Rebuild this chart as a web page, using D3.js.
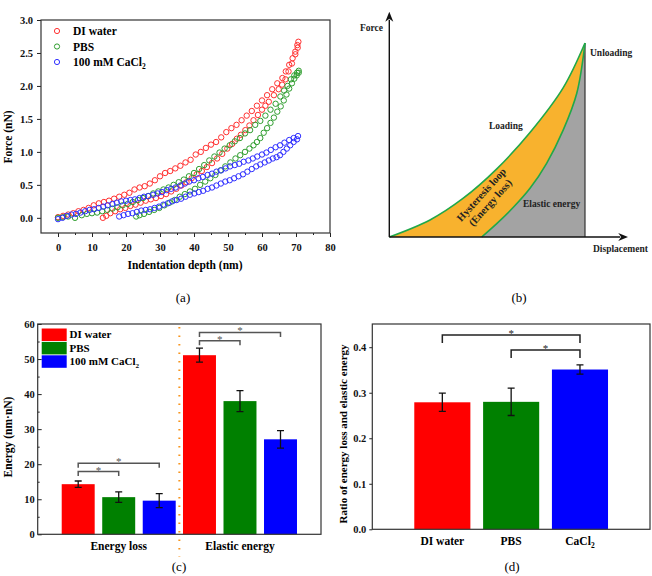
<!DOCTYPE html>
<html>
<head>
<meta charset="utf-8">
<script src="https://cdn.jsdelivr.net/npm/d3@7"></script>
<style>
  body { margin: 0; background: #fff; }
</style>
</head>
<body>
<div id="chart"></div>
<script>
// ---------------- data: panel (a) force vs indentation ----------------
const depthTicks = [0, 10, 20, 30, 40, 50, 60, 70, 80];
const depthMinor = [5, 15, 25, 35, 45, 55, 65, 75];
const forceTicks = [0, 0.5, 1.0, 1.5, 2.0, 2.5, 3.0];
const curveNames = ['DI water', 'PBS', '100 mM CaCl2'];

// [depth nm, force nN]
const diLoad = [[0,0.01],[1.5,0.03],[3,0.05],[4.5,0.07],[6,0.1],[7.5,0.12],[9,0.15],[10.5,0.19],[12,0.22],[13.5,0.24],
  [15,0.26],[16.5,0.29],[18,0.32],[19.5,0.35],[21,0.38],[22.5,0.43],[24,0.46],[25.5,0.48],[27,0.52],[28.5,0.57],
  [30,0.63],[31.5,0.68],[33,0.71],[34.5,0.75],[36,0.79],[37.5,0.84],[39,0.88],[40.5,0.96],[42,1.0],[43.5,1.06],
  [45,1.11],[46.5,1.15],[48,1.22],[49.5,1.3],[51,1.36],[52.5,1.41],[54,1.48],[55.5,1.55],[57,1.62],[58.5,1.7],
  [60,1.78],[61.5,1.86],[63,1.95],[64.5,2.04],[66,2.12],[67,2.22],[68,2.32],[69,2.42],[69.8,2.52],[70.4,2.62],[70.7,2.67]];
const diUnload = [[70.5,2.58],[69.8,2.48],[68.8,2.34],[67.8,2.22],[66.9,2.1],[65.9,2.02],[64.9,1.95],[63.5,1.86],[62,1.76],
  [61,1.7],[60,1.64],[58.8,1.56],[57.5,1.48],[56.3,1.4],[55.1,1.33],[53.8,1.26],[52.6,1.2],[51.2,1.12],[49.8,1.05],
  [48.3,0.97],[46.8,0.9],[45.3,0.83],[43.8,0.77],[42.3,0.71],[40.8,0.66],[39.3,0.6],[37.8,0.54],[36.3,0.49],[34.8,0.44],
  [33.3,0.4],[31.8,0.36],[30.3,0.33],[28.8,0.3],[27.3,0.28],[25.8,0.26],[24.3,0.23],[22.8,0.2],[21.3,0.18],[19.8,0.15],
  [18.3,0.13],[16.8,0.1],[15.4,0.07],[14.2,0.03],[13.2,0.0]];

const pbsLoad = [[0,0.0],[1.5,0.01],[3,0.02],[5,0.0],[7,0.04],[8.5,0.06],[10,0.07],[11.5,0.08],[13,0.1],[14.5,0.12],
  [16,0.14],[17.5,0.16],[19,0.19],[20.5,0.21],[22,0.24],[23.5,0.27],[25,0.3],[26.5,0.33],[28,0.37],[29.5,0.4],
  [31,0.43],[32.5,0.46],[34,0.5],[35.5,0.54],[37,0.58],[38.5,0.63],[40,0.68],[41.5,0.74],[43,0.8],[44.5,0.87],
  [46,0.93],[47.5,0.99],[49,1.05],[50.5,1.1],[52,1.16],[53.5,1.21],[55,1.28],[56.5,1.33],[58,1.41],[59.5,1.47],
  [61,1.55],[62.5,1.64],[64,1.73],[65.4,1.84],[66.5,1.93],[67.5,2.0],[68.5,2.1],[69.5,2.16],[70.3,2.2],[70.8,2.23]];
const pbsUnload = [[70.8,2.2],[70.2,2.16],[69.5,2.11],[68.8,2.04],[68,1.96],[67.2,1.87],[66.4,1.78],[65.5,1.69],[64.5,1.61],
  [63.5,1.52],[62.5,1.44],[61.5,1.36],[60.5,1.29],[59.5,1.21],[58.5,1.15],[57.5,1.1],[56.3,1.05],[55,1.0],[53.6,0.95],
  [52.2,0.9],[50.7,0.84],[49.2,0.78],[47.8,0.72],[46.3,0.65],[44.8,0.6],[43.3,0.55],[41.8,0.5],[40.3,0.44],[38.8,0.4],
  [37.3,0.36],[35.8,0.32],[34.3,0.27],[32.8,0.23],[31.3,0.19],[29.8,0.15],[28.3,0.12],[26.8,0.09],[25.3,0.06],[24,0.04],[23,0.02]];

const caLoad = [[0,-0.02],[1.3,0.0],[2.6,0.03],[4,0.05],[5.3,0.06],[6.6,0.08],[8,0.1],[9.3,0.12],[10.6,0.13],[12,0.15],
  [13.3,0.17],[14.6,0.19],[16,0.21],[17.3,0.23],[18.6,0.25],[20,0.26],[21.3,0.27],[22.6,0.28],[24,0.3],[25.3,0.32],
  [26.6,0.33],[28,0.35],[29.3,0.37],[30.6,0.39],[32,0.42],[33.3,0.44],[34.6,0.46],[36,0.49],[37.3,0.52],[38.6,0.55],
  [40,0.57],[41.3,0.6],[42.6,0.62],[44,0.65],[45.3,0.67],[46.6,0.7],[48,0.72],[49.3,0.75],[50.6,0.78],[52,0.8],
  [53.3,0.82],[54.6,0.85],[56,0.87],[57.3,0.9],[58.6,0.93],[60,0.96],[61.3,0.99],[62.6,1.03],[64,1.07],[65.3,1.1],
  [66.6,1.14],[68,1.18],[69.3,1.21],[70.6,1.24]];
const caUnload = [[70.3,1.19],[69.3,1.15],[68.3,1.1],[67.3,1.05],[66.3,1.0],[65.3,0.95],[64.3,0.92],[63.2,0.9],[62,0.87],
  [60.8,0.84],[59.5,0.81],[58.3,0.78],[57,0.74],[55.7,0.7],[54.4,0.66],[53.1,0.63],[51.8,0.6],[50.5,0.57],[49.2,0.55],
  [47.9,0.52],[46.6,0.49],[45.3,0.46],[44,0.44],[42.7,0.41],[41.4,0.39],[40.1,0.37],[38.8,0.35],[37.5,0.32],[36.2,0.29],
  [34.9,0.27],[33.6,0.25],[32.3,0.22],[31,0.2],[29.7,0.17],[28.4,0.15],[27.1,0.13],[25.8,0.12],[24.5,0.11],[23.2,0.09],
  [21.9,0.07],[20.6,0.06],[19.3,0.04],[18,0.02]];

// ---------------- data: panel (b) schematic (normalised) ----------------
const loadingCurve = [[0,0],[0.208,0.088],[0.378,0.2],[0.548,0.35],[0.72,0.54],[0.889,0.77],[1,1]];
const unloadingCurve = [[0.472,0],[0.549,0.069],[0.634,0.153],[0.719,0.251],[0.804,0.38],[0.889,0.552],[0.958,0.741],[1,1]];

// ---------------- data: panel (c) energies ----------------
const energyGroups = ['Energy loss', 'Elastic energy'];
const energyTicks = [0, 10, 20, 30, 40, 50, 60];
const lossMean = [14.3, 10.6, 9.6];
const lossErr = [0.9, 1.5, 2.0];
const elasticMean = [51.1, 38.0, 27.1];
const elasticErr = [2.0, 3.0, 2.5];
// [from, to, level]
const lossBrackets = [[0, 1, 17.9], [0, 2, 20.3]];
const elasticBrackets = [[0, 1, 55.2], [0, 2, 57.6]];

// ---------------- data: panel (d) ratio ----------------
const ratioLabels = ['DI water', 'PBS', 'CaCl2'];
const ratioTicks = [0, 0.1, 0.2, 0.3, 0.4];
const ratioMean = [0.279, 0.280, 0.351];
const ratioErr = [0.02, 0.03, 0.01];
const ratioBrackets = [[0, 2, 0.427], [1, 2, 0.394]];

const pointColors = ['#ff3030', '#2f9e2f', '#3030ff'];
const barColors = ['#ff0000', '#008000', '#0000ff'];
const serif = '"Liberation Serif", "Times New Roman", serif';

const svg = d3.select('#chart').append('svg')
    .attr('width', 652)
    .attr('height', 576)
    .style('background', '#fff');

// text helper, writes trailing "2" of CaCl2 as subscript
function addLabel(sel, str) {
    if (str.endsWith('Cl2')) {
        sel.append('tspan').text(str.slice(0, -1));
        sel.append('tspan').text('2').attr('font-size', '0.65em').attr('dy', '0.35em');
    } else {
        sel.text(str);
    }
    return sel;
}

function styleAxis(g, size) {
    g.select('.domain').remove();
    g.selectAll('.tick line').attr('stroke', '#222');
    g.selectAll('.tick text')
        .attr('font-family', serif)
        .attr('font-weight', 'bold')
        .attr('font-size', size)
        .attr('fill', '#111');
}

function frame(g, b) {
    g.append('rect')
        .attr('x', b.left).attr('y', b.top)
        .attr('width', b.right - b.left).attr('height', b.bottom - b.top)
        .attr('fill', 'none').attr('stroke', '#333').attr('stroke-width', 1.2);
}

function panelTag(txt, x, y) {
    svg.append('text').attr('x', x).attr('y', y)
        .attr('text-anchor', 'middle')
        .attr('font-family', serif).attr('font-size', 13)
        .text(txt);
}

//************* (a) scatter *************//
function drawCurves() {
    const b = {left: 41, right: 330, top: 20, bottom: 233};
    const g = svg.append('g');
    const x = d3.scaleLinear().domain([-5, 80]).range([b.left, b.right]);
    const y = d3.scaleLinear().domain([-0.23, 3]).range([b.bottom, b.top]);

    g.append('g').attr('transform', `translate(0,${b.bottom})`)
        .call(d3.axisBottom(x).tickValues(depthTicks).tickSize(4).tickPadding(7))
        .call(styleAxis, 10.5);
    g.append('g').attr('transform', `translate(0,${b.bottom})`)
        .call(d3.axisBottom(x).tickValues(depthMinor).tickSize(2).tickFormat(''))
        .call(styleAxis, 10);
    g.append('g').attr('transform', `translate(${b.left},0)`)
        .call(d3.axisLeft(y).tickValues(forceTicks).tickSize(4).tickPadding(4).tickFormat(d3.format('.1f')))
        .call(styleAxis, 10.5);
    frame(g, b);

    const sets = [[diLoad, diUnload], [pbsLoad, pbsUnload], [caLoad, caUnload]];
    sets.forEach((s, i) => {
        g.append('g').selectAll('circle')
            .data(s[0].concat(s[1]))
            .join('circle')
            .attr('cx', d => x(d[0]))
            .attr('cy', d => y(d[1]))
            .attr('r', 2.7)
            .attr('fill', 'none')
            .attr('stroke', pointColors[i])
            .attr('stroke-width', 1);
    });

    // legend
    curveNames.forEach((n, i) => {
        const ly = 31 + i * 15.5;
        g.append('circle').attr('cx', 57).attr('cy', ly).attr('r', 2.6)
            .attr('fill', 'none').attr('stroke', pointColors[i]);
        addLabel(g.append('text').attr('x', 73).attr('y', ly + 4)
            .attr('font-family', serif).attr('font-weight', 'bold').attr('font-size', 11.5), n);
    });

    g.append('text').attr('x', 185).attr('y', 269)
        .attr('text-anchor', 'middle').attr('font-family', serif)
        .attr('font-weight', 'bold').attr('font-size', 11.5)
        .text('Indentation depth (nm)');
    g.append('text').attr('transform', 'translate(12,137) rotate(-90)')
        .attr('text-anchor', 'middle').attr('font-family', serif)
        .attr('font-weight', 'bold').attr('font-size', 11.5)
        .text('Force (nN)');
    panelTag('(a)', 183, 302);
}

//************* (b) schematic *************//
function drawSchematic() {
    const g = svg.append('g');
    const x = d3.scaleLinear().domain([0, 1]).range([389.3, 585]);
    const y = d3.scaleLinear().domain([0, 1]).range([237, 43]);
    const smooth = d3.curveCatmullRom.alpha(0.5);

    const area = d3.area().x(d => x(d[0])).y0(y(0)).y1(d => y(d[1])).curve(smooth);
    const line = d3.line().x(d => x(d[0])).y(d => y(d[1])).curve(smooth);

    g.append('path').attr('d', area(loadingCurve)).attr('fill', '#f8b22e');
    g.append('path').attr('d', area(unloadingCurve)).attr('fill', '#a3a3a3');
    g.append('line')
        .attr('x1', x(1)).attr('x2', x(1)).attr('y1', y(0)).attr('y2', y(1))
        .attr('stroke', '#333').attr('stroke-width', 1.2);
    [loadingCurve, unloadingCurve].forEach(c => {
        g.append('path').attr('d', line(c)).attr('fill', 'none')
            .attr('stroke', '#21a84a').attr('stroke-width', 1.6);
    });

    // arrows
    const defs = svg.append('defs');
    defs.append('marker').attr('id', 'arrow')
        .attr('viewBox', '0 0 10 10').attr('refX', 2).attr('refY', 5)
        .attr('markerWidth', 10).attr('markerHeight', 10)
        .attr('markerUnits', 'userSpaceOnUse').attr('orient', 'auto')
        .append('path').attr('d', 'M0,1 L10,5 L0,9 L3,5 Z').attr('fill', '#111');
    g.append('line')
        .attr('x1', x(0)).attr('y1', y(0)).attr('x2', x(1.18)).attr('y2', y(0))
        .attr('stroke', '#111').attr('stroke-width', 1.4).attr('marker-end', 'url(#arrow)');
    g.append('line')
        .attr('x1', x(0)).attr('y1', y(0)).attr('x2', x(0)).attr('y2', y(1.12))
        .attr('stroke', '#111').attr('stroke-width', 1.4).attr('marker-end', 'url(#arrow)');

    const t = (txt, px, py) => g.append('text').attr('x', px).attr('y', py)
        .attr('font-family', serif).attr('font-weight', 'bold').attr('font-size', 9.5)
        .attr('fill', '#222').text(txt);
    t('Force', 360, 31);
    t('Unloading', 590, 56);
    t('Displacement', 593, 252);
    t('Loading', 489, 129);
    t('Elastic energy', 523, 207);

    const rot = g.append('g').attr('transform', 'translate(484,197) rotate(-48)');
    ['Hysteresis loop', '(Energy loss)'].forEach((s, i) => {
        rot.append('text').attr('y', i * 12)
            .attr('text-anchor', 'middle').attr('font-family', serif)
            .attr('font-weight', 'bold').attr('font-size', 10.5).attr('fill', '#222')
            .text(s);
    });
    panelTag('(b)', 519, 302);
}

// significance bracket
function bracket(g, x1, x2, yLine, yLeg, col) {
    g.append('path')
        .attr('d', `M${x1},${yLeg} L${x1},${yLine} L${x2},${yLine} L${x2},${yLeg}`)
        .attr('fill', 'none').attr('stroke', col).attr('stroke-width', 1.5);
    g.append('text').attr('x', (x1 + x2) / 2).attr('y', yLine + 2)
        .attr('text-anchor', 'middle').attr('font-family', serif)
        .attr('font-size', 11).attr('fill', col).text('*');
}

function errorBar(g, cx, y, lo, hi) {
    g.append('path')
        .attr('d', `M${cx - 3.5},${y(hi)} H${cx + 3.5} M${cx},${y(hi)} V${y(lo)} M${cx - 3.5},${y(lo)} H${cx + 3.5}`)
        .attr('fill', 'none').attr('stroke', '#111').attr('stroke-width', 1.3);
}

//************* (c) grouped bars *************//
function drawEnergy() {
    const b = {left: 37.7, right: 321, top: 324, bottom: 534.3};
    const g = svg.append('g');
    const x0 = d3.scaleBand().domain(energyGroups).range([b.left, b.right])
        .paddingInner(0.06).paddingOuter(0.198);
    const x1 = d3.scaleBand().domain(curveNames).range([0, x0.bandwidth()]).paddingInner(0.186);
    const y = d3.scaleLinear().domain([0, 60]).range([b.bottom, b.top]);

    const means = [lossMean, elasticMean];
    const errs = [lossErr, elasticErr];
    const brs = [lossBrackets, elasticBrackets];

    energyGroups.forEach((grp, gi) => {
        const gx = x0(grp);
        g.append('g').selectAll('rect')
            .data(means[gi])
            .join('rect')
            .attr('x', (d, i) => gx + x1(curveNames[i]))
            .attr('y', d => y(d))
            .attr('width', x1.bandwidth())
            .attr('height', d => y(0) - y(d))
            .attr('fill', (d, i) => barColors[i]);
        means[gi].forEach((m, i) => {
            const cx = gx + x1(curveNames[i]) + x1.bandwidth() / 2;
            errorBar(g, cx, y, m - errs[gi][i], m + errs[gi][i]);
        });
        brs[gi].forEach(br => {
            const ca = gx + x1(curveNames[br[0]]) + x1.bandwidth() / 2;
            const cb = gx + x1(curveNames[br[1]]) + x1.bandwidth() / 2;
            bracket(g, ca, cb, y(br[2]), y(br[2]) + 4.5, '#555');
        });
    });

    // dotted divider between the groups
    const divX = (x0(energyGroups[0]) + x0.bandwidth() + x0(energyGroups[1])) / 2;
    g.append('line')
        .attr('x1', divX).attr('x2', divX).attr('y1', b.top + 3).attr('y2', 557)
        .attr('stroke', '#f7941d').attr('stroke-width', 2)
        .attr('stroke-dasharray', '1.5,7');

    g.append('g').attr('transform', `translate(${b.left},0)`)
        .call(d3.axisLeft(y).tickValues(energyTicks).tickSize(-4).tickPadding(3))
        .call(styleAxis, 10.5);
    g.append('g').attr('transform', `translate(${b.left},0)`)
        .call(d3.axisLeft(y).tickValues([5, 15, 25, 35, 45, 55]).tickSize(-2).tickFormat(''))
        .call(styleAxis, 10);
    frame(g, b);

    g.selectAll('.grpLabel')
        .data(energyGroups)
        .join('text')
        .attr('x', d => x0(d) + x0.bandwidth() / 2)
        .attr('y', 550)
        .attr('text-anchor', 'middle').attr('font-family', serif)
        .attr('font-weight', 'bold').attr('font-size', 11.5)
        .text(d => d);

    // legend
    curveNames.forEach((n, i) => {
        const ly = 328.5 + i * 13.4;
        g.append('rect').attr('x', 41.7).attr('y', ly).attr('width', 25).attr('height', 12.5)
            .attr('fill', barColors[i]);
        addLabel(g.append('text').attr('x', 69.5).attr('y', ly + 9.8)
            .attr('font-family', serif).attr('font-weight', 'bold').attr('font-size', 11), n);
    });

    g.append('text').attr('transform', 'translate(12,437) rotate(-90)')
        .attr('text-anchor', 'middle').attr('font-family', serif)
        .attr('font-weight', 'bold').attr('font-size', 11.5)
        .text('Energy (nm·nN)');
    panelTag('(c)', 179, 571);
}

//************* (d) ratio bars *************//
function drawRatio() {
    const b = {left: 372.3, right: 650, top: 324, bottom: 529.3};
    const g = svg.append('g');
    const x = d3.scaleBand().domain(ratioLabels).range([b.left, b.right])
        .paddingInner(0.185).paddingOuter(0.61);
    const y = d3.scaleLinear().domain([0, 0.451]).range([b.bottom, b.top]);

    g.append('g').selectAll('rect')
        .data(ratioMean)
        .join('rect')
        .attr('x', (d, i) => x(ratioLabels[i]))
        .attr('y', d => y(d))
        .attr('width', x.bandwidth())
        .attr('height', d => y(0) - y(d))
        .attr('fill', (d, i) => barColors[i]);
    ratioMean.forEach((m, i) => {
        errorBar(g, x(ratioLabels[i]) + x.bandwidth() / 2, y, m - ratioErr[i], m + ratioErr[i]);
    });
    ratioBrackets.forEach(br => {
        const ca = x(ratioLabels[br[0]]) + x.bandwidth() / 2;
        const cb = x(ratioLabels[br[1]]) + x.bandwidth() / 2;
        bracket(g, ca, cb, y(br[2]), y(br[2]) + 8, '#222');
    });

    g.append('g').attr('transform', `translate(${b.left},0)`)
        .call(d3.axisLeft(y).tickValues(ratioTicks).tickSize(3).tickPadding(3).tickFormat(d3.format('.1f')))
        .call(styleAxis, 10.5);
    frame(g, b);

    ratioLabels.forEach(l => {
        addLabel(g.append('text')
            .attr('x', x(l) + x.bandwidth() / 2).attr('y', 545)
            .attr('text-anchor', 'middle').attr('font-family', serif)
            .attr('font-weight', 'bold').attr('font-size', 11.5), l);
    });

    g.append('text').attr('transform', 'translate(347,434) rotate(-90)')
        .attr('text-anchor', 'middle').attr('font-family', serif)
        .attr('font-weight', 'bold').attr('font-size', 11)
        .text('Ratio of energy loss and elastic energy');
    panelTag('(d)', 512, 571);
}

drawCurves();
drawSchematic();
drawEnergy();
drawRatio();
</script>
</body>
</html>
